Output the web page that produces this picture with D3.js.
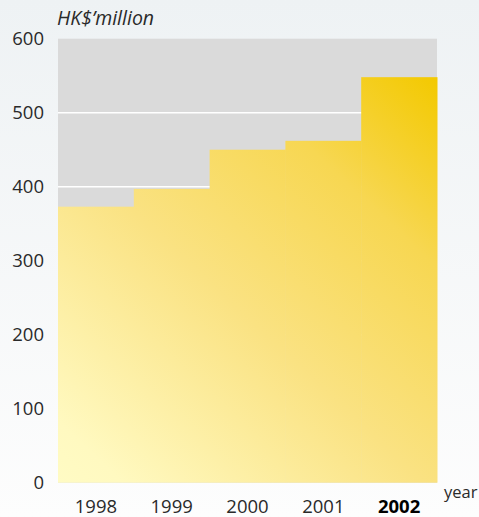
<!DOCTYPE html>
<html>
<head>
<meta charset="utf-8">
<script src="https://cdn.jsdelivr.net/npm/d3@7"></script>
<style>
  html, body { margin: 0; padding: 0; }
  body { width: 479px; height: 517px; overflow: hidden; font-family: "Open Sans", "Noto Sans", sans-serif; }
</style>
</head>
<body>
<div id="chart"></div>
<script>
// données du graphique
const years = ['1998', '1999', '2000', '2001', '2002']
const amounts = [373, 397, 450, 462, 548]
const yTicks = [0, 100, 200, 300, 400, 500, 600]
const unitLabel = 'HK$\u2019million'
const xTitle = 'year'

const width = 479, height = 517
const margin = {top: 38.7, right: 42, bottom: 34.3, left: 58}
const innerW = width - margin.left - margin.right
const innerH = height - margin.top - margin.bottom

const svg = d3.select('#chart').append('svg')
  .attr('width', width)
  .attr('height', height)

const defs = svg.append('defs')

/* fond légèrement bleuté */
const bg = defs.append('linearGradient')
  .attr('id', 'bg').attr('x1', 0).attr('y1', 0).attr('x2', 0).attr('y2', 1)
bg.append('stop').attr('offset', '0%').attr('stop-color', '#eef2f4')
bg.append('stop').attr('offset', '100%').attr('stop-color', '#fdfdfd')

svg.append('rect').attr('width', width).attr('height', height).attr('fill', 'url(#bg)')

const g = svg.append('g').attr('transform', `translate(${margin.left},${margin.top})`)

const x = d3.scaleBand().domain(years).range([0, innerW]).padding(0)
const y = d3.scaleLinear().domain([0, 600]).range([innerH, 0])

/* dégradé jaune des barres : clair en bas à gauche, or en haut à droite */
const gold = defs.append('linearGradient')
  .attr('id', 'gold')
  .attr('gradientUnits', 'userSpaceOnUse')
  .attr('x1', 0).attr('y1', innerH)
  .attr('x2', innerW).attr('y2', y(d3.max(amounts)))
gold.append('stop').attr('offset', '0%').attr('stop-color', '#fffbc4')
gold.append('stop').attr('offset', '8%').attr('stop-color', '#fff9c0')
gold.append('stop').attr('offset', '45%').attr('stop-color', '#fae282')
gold.append('stop').attr('offset', '75%').attr('stop-color', '#f7d752')
gold.append('stop').attr('offset', '100%').attr('stop-color', '#f3c900')

// zone grise
g.append('rect').attr('width', innerW).attr('height', innerH).attr('fill', '#dadada')

// lignes de grille blanches
g.selectAll('.grid')
  .data(yTicks.filter(d => d > 0 && d < 600))
  .enter().append('line')
  .attr('x1', 0).attr('x2', innerW)
  .attr('y1', d => y(d)).attr('y2', d => y(d))
  .attr('stroke', '#ffffff').attr('stroke-width', 1.5)

// barres
g.selectAll('.bar')
  .data(years)
  .enter().append('rect')
  .attr('x', d => x(d))
  .attr('width', x.bandwidth() + 0.5)
  .attr('y', (d, i) => y(amounts[i]))
  .attr('height', (d, i) => innerH - y(amounts[i]))
  .attr('fill', 'url(#gold)')

// axe Y
const yAxis = d3.axisLeft(y).tickValues(yTicks).tickSize(0).tickPadding(14)
const ya = g.append('g').call(yAxis)
ya.select('.domain').remove()
ya.selectAll('text')
  .attr('font-family', '"Open Sans", "Noto Sans", sans-serif')
  .attr('font-size', 18.5).attr('fill', '#2a2a2a')

// axe X
const xAxis = d3.axisBottom(x).tickSize(0).tickPadding(17)
const xa = g.append('g').attr('transform', `translate(0,${innerH})`).call(xAxis)
xa.select('.domain').remove()
xa.selectAll('text')
  .attr('font-family', '"Open Sans", "Noto Sans", sans-serif')
  .attr('font-size', 18.5)
  .attr('font-weight', d => d === '2002' ? 'bold' : 'normal')
  .attr('fill', d => d === '2002' ? '#000' : '#2a2a2a')

// titres
svg.append('text')
  .attr('x', 57).attr('y', 25)
  .attr('font-family', '"Open Sans", "Noto Sans", sans-serif')
  .attr('font-style', 'italic').attr('font-size', 19.5).attr('fill', '#2a2a2a')
  .text(unitLabel)

svg.append('text')
  .attr('x', 444).attr('y', 498)
  .attr('font-family', '"Open Sans", "Noto Sans", sans-serif')
  .attr('font-size', 16.5).attr('fill', '#2a2a2a')
  .text(xTitle)
</script>
</body>
</html>
